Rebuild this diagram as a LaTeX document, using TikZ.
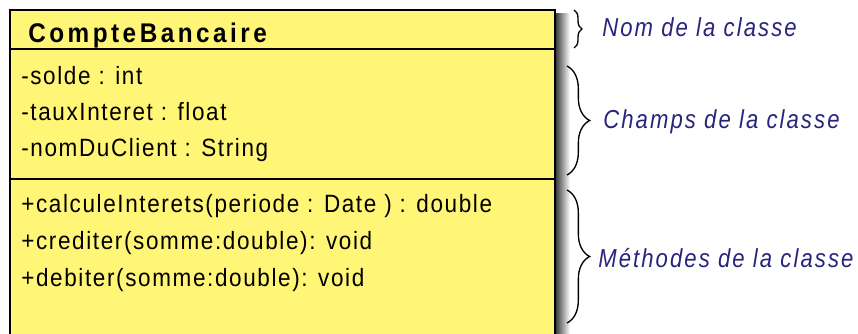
\documentclass[tikz,border=0pt]{standalone}
\usepackage{fontspec}
\setmainfont{Liberation Sans}
\newfontfamily\umlfont[FakeStretch=0.9,LetterSpace=6.5]{Liberation Sans}
\newfontfamily\titlefont[FakeStretch=0.9,LetterSpace=13]{Liberation Sans}
\newfontfamily\notefont[FakeStretch=0.85,LetterSpace=8]{Liberation Sans}
\usetikzlibrary{positioning,decorations.pathreplacing}
\definecolor{umlyellow}{RGB}{255,245,118}
\definecolor{notecolor}{RGB}{40,36,125}
\tikzset{
  member/.style={anchor=base west,inner sep=0pt,font=\umlfont\fontsize{18.75}{20}\selectfont},
  note/.style={anchor=base west,inner sep=0pt,text=notecolor,font=\notefont\itshape\fontsize{19.5}{21}\selectfont},
  bracket/.style={decorate,decoration={brace,amplitude=#1},line width=1pt}
}

\begin{document}
\begin{tikzpicture}[x=0.75pt,y=-0.75pt]
  \useasboundingbox (0,0) rectangle (858,334);
  \clip (0,0) rectangle (858,334);
  \shade[left color=black!80,right color=white] (555,14) rectangle (570,340);
  \filldraw[fill=umlyellow,line width=1.1pt] (10,10) rectangle (555,345);
  \draw[line width=2.2pt] (10,49) -- (555,49);
  \draw[line width=2.2pt] (10,179) -- (555,179);

  \node[anchor=base west,inner sep=0pt,font=\titlefont\bfseries\fontsize{20.25}{22}\selectfont] (nom) at (28,43) {CompteBancaire};

  \node[member] (solde) at (21,85) {-solde : int};
  \node[member] (taux) at (21,121) {-tauxInteret : float};
  \node[member] (client) at (21,157) {-nomDuClient : String};
  \node[member] (calcule) at (21,213) {+calculeInterets(periode : Date ) : double};
  \node[member] (crediter) at (21,250) {+crediter(somme:double): void};
  \node[member] (debiter) at (21,287) {+debiter(somme:double): void};

  \node[note] (nomnote) at (602,37) {Nom de la classe};
  \node[note] (champsnote) at (603,129) {Champs de la classe};
  \node[note] (methnote) at (598,268) {Méthodes de la classe};

  \coordinate (nomA) at (574,10);
  \coordinate (nomB) at (574,48);
  \coordinate (champsA) at (567,66);
  \coordinate (champsB) at (567,175);
  \coordinate (methA) at (567,190);
  \coordinate (methB) at (567,323);
  \draw[bracket=6pt] (nomA) -- (nomB);
  \draw[bracket=17pt] (champsA) -- (champsB);
  \draw[bracket=17pt] (methA) -- (methB);
\end{tikzpicture}
\end{document}
